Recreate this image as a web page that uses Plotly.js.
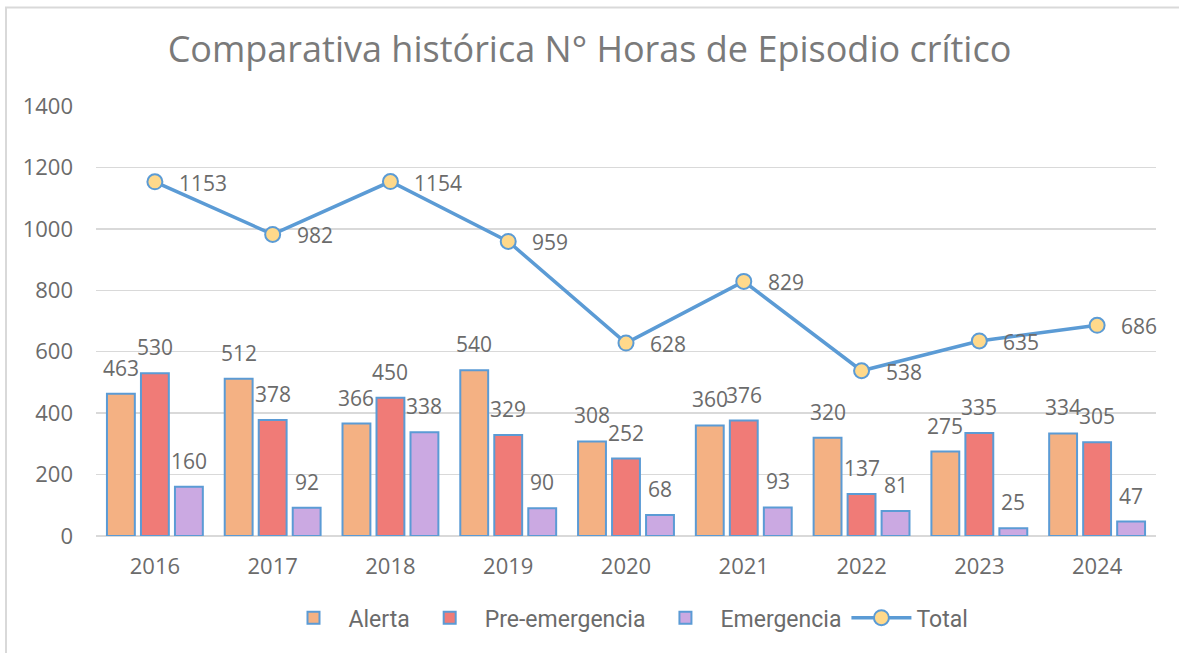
<!DOCTYPE html>
<html>
<head>
<meta charset="utf-8">
<script src="https://cdn.plot.ly/plotly-3.0.1.min.js"></script>
<style>html,body{margin:0;padding:0;background:#fff;}#chart{width:1179px;height:653px;}</style>
</head>
<body>
<div id="chart"></div>
<script>
const years = ['2016','2017','2018','2019','2020','2021','2022','2023','2024'];
const alerta = [463, 512, 366, 540, 308, 360, 320, 275, 334];
const preEmergencia = [530, 378, 450, 329, 252, 376, 137, 335, 305];
const emergencia = [160, 92, 338, 90, 68, 93, 81, 25, 47];
const total = [1153, 982, 1154, 959, 628, 829, 538, 635, 686];
const yTicks = [0, 200, 400, 600, 800, 1000, 1200, 1400];

const textColor = '#6b6b6b';
const outline = '#5B9BD5';
const font = 'Open Sans, Inter, Arial, sans-serif';

function barTrace(name, vals, color) {
  return {
    type: 'bar', name: name, x: years, y: vals,
    marker: {color: color, line: {color: outline, width: 2}},
    hoverinfo: 'skip'
  };
}

const traces = [
  barTrace('Alerta', alerta, '#F4B183'),
  barTrace('Pre-emergencia', preEmergencia, '#F07B77'),
  barTrace('Emergencia', emergencia, '#CBA9E2'),
  {
    type: 'scatter', mode: 'lines+markers', name: 'Total',
    x: years, y: total,
    line: {color: outline, width: 3.5},
    marker: {size: 15, color: '#FFD98B', line: {color: outline, width: 2}},
    cliponaxis: false
  }
];

const annotations = [];
[[alerta, -34], [preEmergencia, 0], [emergencia, 34]].forEach(([vals, shift]) => {
  vals.forEach((v, i) => {
    annotations.push({
      x: i, y: v, xref: 'x', yref: 'y', text: String(v),
      showarrow: false, xshift: shift, yshift: 10, yanchor: 'bottom',
      font: {size: 21, color: textColor, family: font}
    });
  });
});
total.forEach((v, i) => {
  annotations.push({
    x: i, y: v, xref: 'x', yref: 'y', text: String(v),
    showarrow: false, xshift: 22, yshift: -1, xanchor: 'left', yanchor: 'middle',
    font: {size: 21, color: textColor, family: font}
  });
});

const layout = {
  width: 1179, height: 653,
  paper_bgcolor: '#fff', plot_bgcolor: '#fff',
  margin: {l: 96, r: 23, t: 106, b: 117},
  title: {
    text: 'Comparativa histórica N° Horas de Episodio crítico',
    font: {size: 36, color: '#7a7a7a', family: font},
    x: 0.5, xanchor: 'center', y: 0.925, yanchor: 'middle'
  },
  barmode: 'group', bargap: 0.134, bargroupgap: 0.18,
  xaxis: {
    type: 'category', range: [-0.5, 8.5],
    showgrid: false, zeroline: false, showline: false,
    ticks: '', ticklabelstandoff: 15,
    tickfont: {size: 22, color: textColor, family: font}
  },
  yaxis: {
    range: [0, 1400], tickvals: yTicks,
    showgrid: true, gridcolor: '#D9D9D9', gridwidth: 1.5,
    zeroline: true, zerolinecolor: '#D9D9D9', zerolinewidth: 1.5,
    showline: false, ticks: '', ticklabelstandoff: 22,
    tickfont: {size: 22, color: textColor, family: font}
  },
  showlegend: true,
  legend: {
    orientation: 'h', x: 0.5, xanchor: 'center', y: -0.19, yanchor: 'middle',
    font: {size: 23, color: textColor, family: 'Roboto, Arial, sans-serif'},
    itemwidth: 60, traceorder: 'normal'
  },
  annotations: annotations,
  shapes: [{
    type: 'rect', xref: 'paper', yref: 'paper',
    x0: -0.0849, x1: 1.1, y0: -0.35, y1: 1.229,
    line: {color: '#D9D9D9', width: 2}, fillcolor: 'rgba(0,0,0,0)', layer: 'below'
  }]
};

Plotly.newPlot('chart', traces, layout, {displayModeBar: false, staticPlot: true});
</script>
</body>
</html>
